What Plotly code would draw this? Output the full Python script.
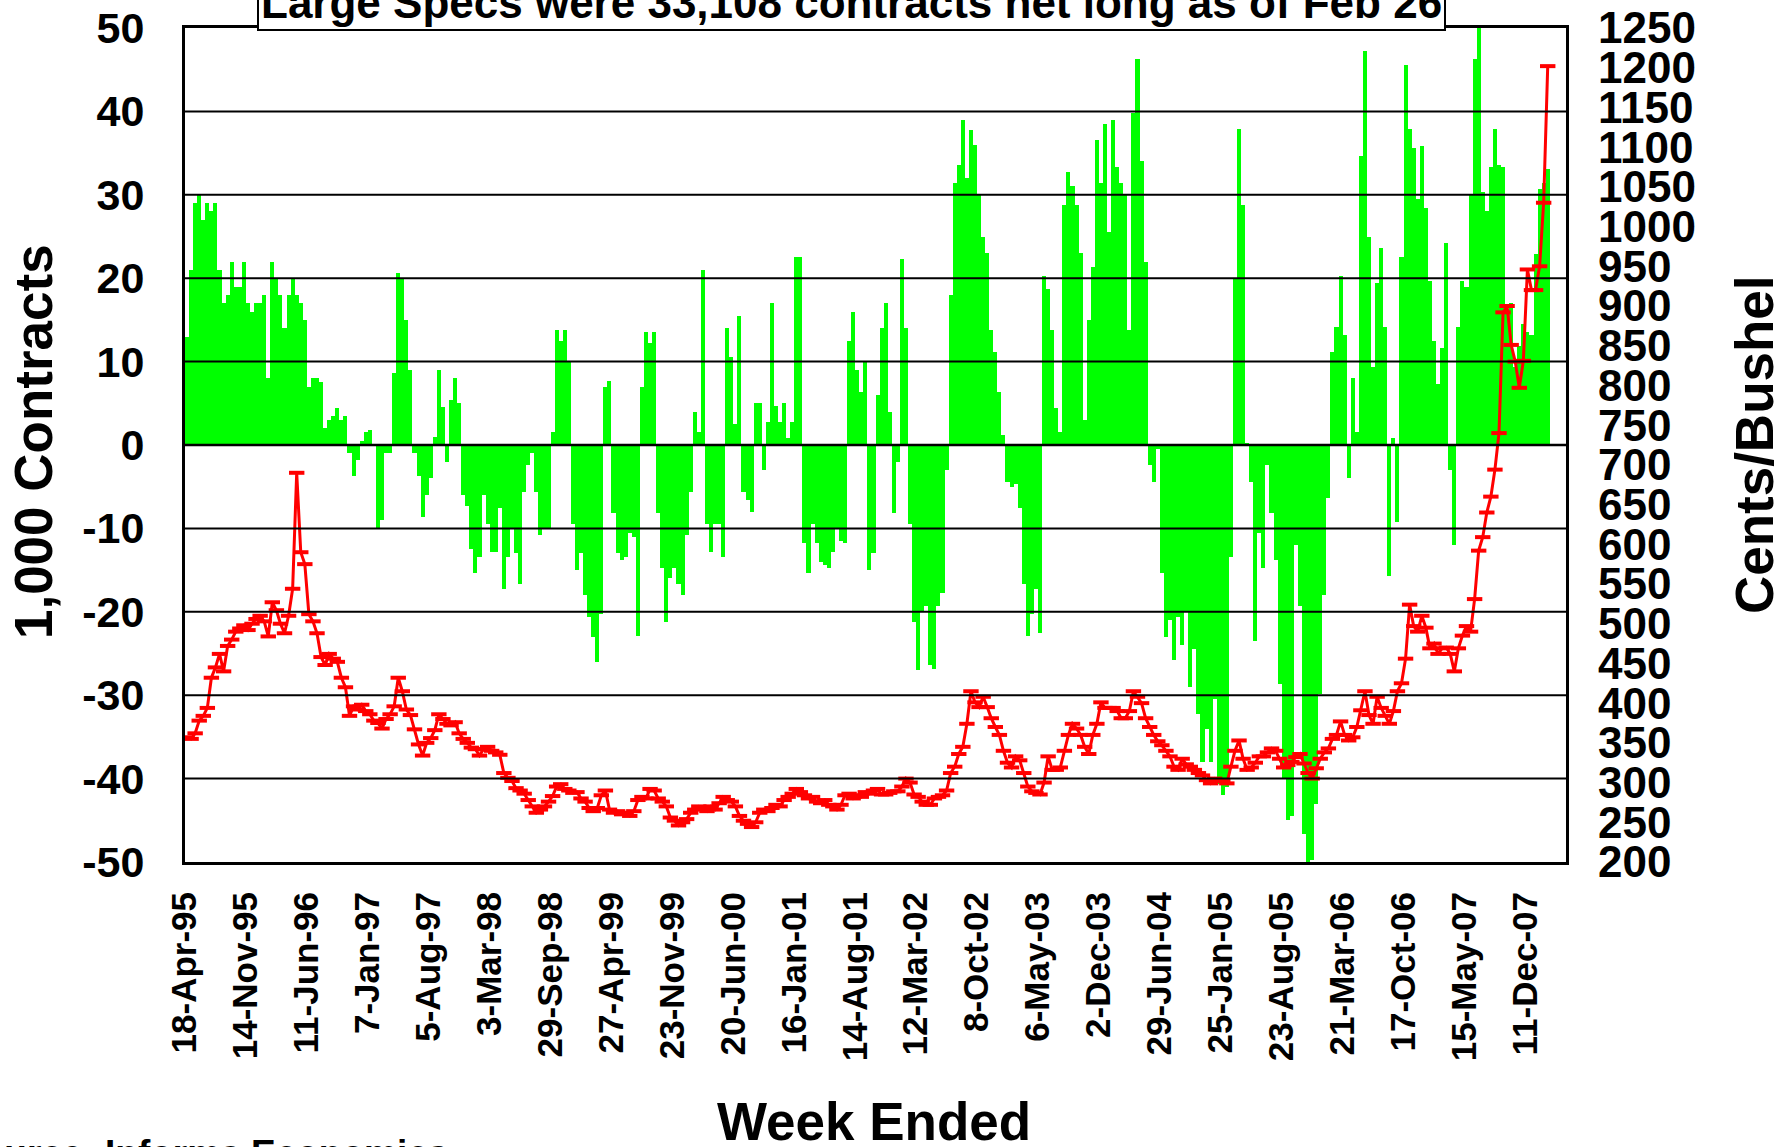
import pandas as pd
import plotly.graph_objects as go

# ---------------- data ----------------
first_period_end = "1995-04-25"   # bi-weekly samples, last = 26-Feb-2008
period_days = 14

# Large speculators net position, 1,000 contracts
net_long = [
    13, 21, 29, 30, 27, 29, 28, 29, 21, 17, 18, 22, 19, 19, 22, 17, 16, 17, 17, 18,
    8, 22, 20, 18, 14, 18, 20, 18, 17, 15, 7, 8, 8, 7.6, 2, 3, 3.5, 4.4, 3, 3.5,
    -1, -3.7, -1.8, 0.5, 1.5, 1.8, 0, -10, -9, -1, -1, 8.6, 20.6, 20, 15, 9, -1, -3.7, -8.6, -6,
    -4, 1, 9, 4.5, -2, 5.4, 8, 5, -6, -7.3, -12.5, -15.4, -13.4, -6, -9.5, -12.8, -12.8, -7.6, -17.3, -13.4,
    -10, -13, -16.7, -5.6, -2.4, -1,
    -5.6, -10.8, -10, -10, 1.5, 13.8, 12.5, 13.8, 10, -9.5, -15, -13, -18, -20.6, -23, -26, -20.3, 7, 7.7, -8.2,
    -13, -13.8, -13.4, -10.5, -11, -22.9, 7, 13.5, 12.2, 13.5, -8.2, -14.7, -21.2, -16, -14.7, -16.7, -18, -10.8, -5.6, 4,
    1.5, 21, -9.5, -12.8, -9.5, -9.5, -13.4, 14, 10.6, 2.5, 15.5, -5.6, -6.6, -8, 5, 5, -3, 2.8, 17, 4.7,
    2.8, 5, 0.8, 2.8, 22.6, 22.6, -11.8, -15.4, -9.5, -11.8, -14, -14.4, -14.7, -12.8, -10, -11.5, -11.8, 12.5, 16, 9,
    6.4, 10, -15, -13, 6,
    14, 17, 4, -8.2, -2, 22.3, 14, -9.5, -21.2, -27, -20, -19.3, -26.4, -26.8, -19.3, -17.7, -3, 18, 31.4, 33.6,
    39, 32, 37.8, 36, 30, 24.9, 23, 13.8, 11.2, 6.4, 1.2, -4.4, -5, -4.7, -7.6, -16.7, -22.9, -20.3, -17.3, -22.5,
    20.3, 18.7, 13.8, 4.4, 1.5, 28.8, 32.7, 31, 28.8, 23, 3, 15, 21.3, 36.6, 31.4, 38.5, 25.5, 39, 33.3, 31.4,
    30, 13.8, 39.8, 46.3, 34, 22, -2.4, -4.4, -0.5, -15.4, -23, -21, -25.8, -20.6, -24, -20, -29, -24.4, -32.2, -38,
    -34, -38, -30.5, -40.6, -42,
    -41, -13.4, 20, 37.9, 28.8, 0.2, -4.4, -23.5, -10.5, -14.7, -2.4, -8.2, -13.8, -28.7, -40, -45, -44.5, -12, -19.3, -46.6,
    -50, -49.8, -43, -29.8, -18, -6.3, 11.2, 14.2, 20.3, 13.2, -4, 8, 1.5, 34.6, 47.3, 24.9, 9.3, 19.4, 23.6, 14.2,
    -15.7, 0.8, -9.2, 22.6, 45.6, 37.9, 35.6, 29.5, 35.9, 28.4, 19.7, 12.5, 7.3, 11.6, 24.2, -3, -12, 14.2, 19.7, 19,
    30, 46.3, 50.5, 30.3, 28, 33.3, 37.9, 33.6, 33.3, 15.8, 17, 9.3, 11.9, 14.5, 13.5, 13.2, 22.9, 30.7, 31.4, 33.1,
]

# Wheat price, cents per bushel
price = [
    357, 355, 362, 378, 384, 394, 432, 445, 462, 440, 472, 480, 490, 494, 498, 492, 500, 506, 510, 503,
    484, 527, 517, 500, 488, 510, 544, 690, 590, 575, 512, 503, 488, 458, 448, 462, 456, 452, 432, 420,
    384, 396, 392, 398, 390, 386, 378, 375, 368, 380, 386, 396, 432, 415, 392, 385, 367, 348, 334, 350,
    356, 366, 386, 380, 374, 372, 376, 362, 355, 350, 344, 342, 334, 342, 345, 340, 338, 335, 312, 306,
    302, 293, 290, 286, 278, 270,
    262, 266, 270, 276, 283, 295, 298, 292, 290, 287, 288, 280, 276, 268, 264, 268, 284, 290, 266, 262,
    264, 260, 262, 258, 264, 278, 282, 280, 292, 290, 280, 276, 270, 256, 252, 246, 250, 254, 262, 266,
    270, 268, 264, 270, 266, 274, 282, 278, 276, 270, 258, 252, 248, 244, 250, 262, 266, 264, 268, 272,
    270, 278, 282, 286, 292, 288, 284, 280, 282, 276, 274, 278, 272, 270, 266, 272, 284, 286, 280, 284,
    282, 288, 286, 290, 292,
    285, 285, 287, 289, 289, 295, 305, 300, 285, 282, 276, 272, 272, 280, 282, 284, 290, 312, 320, 336,
    345, 374, 415, 401, 395, 408, 395, 381, 370, 360, 340, 325, 319, 333, 328, 312, 295, 289, 287, 285,
    300, 333, 316, 316, 319, 340, 360, 374, 368, 360, 345, 336, 360, 374, 401, 394, 394, 394, 390, 381,
    381, 390, 415, 408, 400, 381, 370, 360, 352, 347, 340, 333, 320, 316, 330, 323, 320, 316, 312, 309,
    303, 299, 305, 302, 302,
    299, 320, 340, 353, 330, 316, 319, 325, 333, 333, 338, 343, 340, 330, 319, 322, 326, 332, 336, 324,
    312, 305, 318, 330, 338, 343, 355, 360, 377, 360, 353, 357, 370, 391, 415, 385, 374, 408, 394, 384,
    374, 390, 415, 425, 456, 524, 497, 490, 510, 495, 469, 475, 462, 469, 470, 462, 440, 469, 485, 497,
    490, 531, 592, 609, 640, 660, 694, 740, 892, 900, 851, 830, 797, 831, 946, 920, 920, 950, 1030, 1202,
]

x_tick_labels = [
    "18-Apr-95", "14-Nov-95", "11-Jun-96", "7-Jan-97", "5-Aug-97", "3-Mar-98",
    "29-Sep-98", "27-Apr-99", "23-Nov-99", "20-Jun-00", "16-Jan-01", "14-Aug-01",
    "12-Mar-02", "8-Oct-02", "6-May-03", "2-Dec-03", "29-Jun-04", "25-Jan-05",
    "23-Aug-05", "21-Mar-06", "17-Oct-06", "15-May-07", "11-Dec-07",
]
left_tick_values = [-50, -40, -30, -20, -10, 0, 10, 20, 30, 40, 50]
left_tick_labels = ["-50", "-40", "-30", "-20", "-10", "0", "10", "20", "30", "40", "50"]
right_tick_values = list(range(200, 1251, 50))
right_tick_labels = [str(v) for v in right_tick_values]

title_text = "Large Specs were 33,108 contracts net long as of Feb 26"
source_text = "Source: Informa Economics"

# ---------------- figure ----------------
dates = pd.date_range(first_period_end, periods=len(net_long), freq=f"{period_days}D")
x_tick_dates = pd.to_datetime(x_tick_labels, format="%d-%b-%y")
axis_start = pd.Timestamp("1995-04-18")
axis_end = axis_start + pd.Timedelta(weeks=680)

FONT = "Liberation Sans, Arial, sans-serif"

fig = go.Figure()
fig.add_trace(go.Bar(
    x=dates, y=net_long, width=period_days * 86400000,
    marker=dict(color="#00FF00", line=dict(width=0)),
    name="Large Specs", showlegend=False,
))
fig.add_trace(go.Scatter(
    x=dates, y=price, yaxis="y2", mode="lines+markers",
    line=dict(color="#FF0000", width=3),
    marker=dict(symbol="line-ew", size=11, color="#FF0000",
                line=dict(color="#FF0000", width=4)),
    name="Price", showlegend=False,
))

# horizontal grid lines drawn above the bars (as in the reference)
for v in left_tick_values[1:-1]:
    fig.add_shape(type="line", xref="paper", x0=0, x1=1, yref="y", y0=v, y1=v,
                  line=dict(color="black", width=2.5 if v == 0 else 2), layer="above")

fig.update_layout(
    width=1777, height=1147,
    margin=dict(l=185, r=211, t=28, b=285, autoexpand=False),
    paper_bgcolor="white", plot_bgcolor="white",
    bargap=0,
    font=dict(family=FONT, color="black"),
    xaxis=dict(
        type="date", range=[axis_start, axis_end], automargin=False,
        tickmode="array", tickvals=x_tick_dates, ticktext=x_tick_labels,
        tickangle=-90, tickfont=dict(size=35, weight="bold", family=FONT),
        showgrid=False, zeroline=False, ticks="", ticklabeloverflow="allow",
        showline=True, linecolor="black", linewidth=3, mirror=True,
        ticklabelstandoff=13,
    ),
    yaxis=dict(
        range=[-50, 50], tickmode="array", tickvals=left_tick_values, automargin=False,
        ticktext=left_tick_labels, tickfont=dict(size=43, weight="bold", family=FONT),
        showgrid=False, zeroline=False, ticks="", ticklabeloverflow="allow",
        showline=True, linecolor="black", linewidth=3, mirror=True,
        ticklabelstandoff=29,
    ),
    yaxis2=dict(
        overlaying="y", side="right", range=[200, 1250], automargin=False,
        tickmode="array", tickvals=right_tick_values, ticktext=right_tick_labels,
        tickfont=dict(size=44, weight="bold", family=FONT),
        showgrid=False, zeroline=False, ticks="", showline=False,
        ticklabeloverflow="allow", ticklabelstandoff=31,
    ),
)

annotations = [
    dict(text=title_text, xref="paper", yref="paper", x=0.4826, y=0.9964,
         xanchor="center", yanchor="bottom", showarrow=False,
         font=dict(size=44, weight="bold", family=FONT),
         bgcolor="white", bordercolor="black", borderwidth=2, borderpad=2),
    dict(text="1,000 Contracts", xref="paper", yref="paper", x=-0.1093, y=0.5036,
         xanchor="center", yanchor="middle", textangle=-90, showarrow=False,
         font=dict(size=53, weight="bold", family=FONT)),
    dict(text="Cents/Bushel", xref="paper", yref="paper", x=1.1361, y=0.501,
         xanchor="center", yanchor="middle", textangle=-90, showarrow=False,
         font=dict(size=53, weight="bold", family=FONT)),
    dict(text="Week Ended", xref="paper", yref="paper", x=0.4989, y=-0.3106,
         xanchor="center", yanchor="middle", showarrow=False,
         font=dict(size=53, weight="bold", family=FONT)),
    dict(text=source_text, xref="paper", yref="paper", x=(450 - 185) / 1381, y=-0.322,
         xanchor="right", yanchor="top", showarrow=False,
         font=dict(size=37, weight="bold", family=FONT)),
]
fig.update_layout(annotations=annotations)

# remove the browser's default 8px body margin so the figure fills the window
fig.write_html("out.html", config={"displayModeBar": False},
               post_script="document.body.style.margin='0';")
